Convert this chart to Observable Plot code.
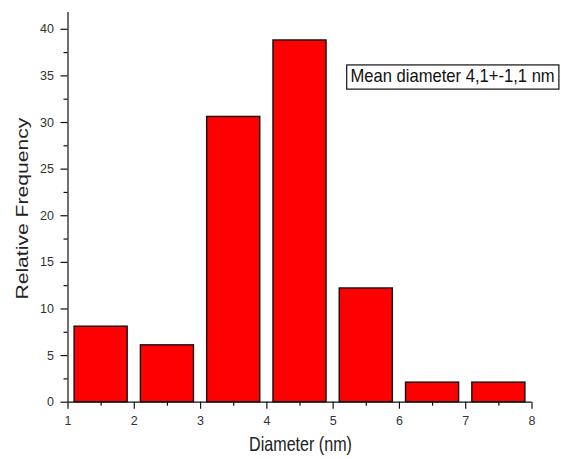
<!DOCTYPE html>
<html><head><meta charset="utf-8">
<script src="https://cdn.jsdelivr.net/npm/d3@7"></script>
<script src="https://cdn.jsdelivr.net/npm/@observablehq/plot@0.6"></script>
<style>
html,body{margin:0;padding:0;background:#fff;}
#chart{width:561px;height:459px;overflow:hidden;}
svg text{font-family:Arial,"Liberation Sans",sans-serif;}
</style>
</head><body><div id="chart"></div>
<script>
const binStarts = [1, 2, 3, 4, 5, 6, 7];
const binEnds   = [2, 3, 4, 5, 6, 7, 8];
const frequency = [8.1, 6.1, 30.6, 38.8, 12.2, 2.1, 2.1];
const xMajorTicks = [1, 2, 3, 4, 5, 6, 7, 8];
const xMinorTicks = [1.5, 2.5, 3.5, 4.5, 5.5, 6.5, 7.5];
const yMajorTicks = [0, 5, 10, 15, 20, 25, 30, 35, 40];
const yMinorTicks = [2.5, 7.5, 12.5, 17.5, 22.5, 27.5, 32.5, 37.5];
const xTitle = "Diameter (nm)";
const yTitle = "Relative Frequency";
const annotation = ["Mean diameter 4,1+-1,1 nm"];
const annotationPos = {x: 5.262, y: 34.90};

const bars = binStarts.map((s, i) => ({x1: s, x2: binEnds[i], y: frequency[i]}));

const FS_X = 16.1, FS_Y = 16.5, FS_A = 16.6;

const chart = Plot.plot({
  width: 561,
  height: 459,
  marginLeft: 67.5,
  marginRight: 29.5,
  marginTop: 12,
  marginBottom: 57.3,
  style: {fontFamily: "Arial, 'Liberation Sans', sans-serif", fontSize: "12.5px", color: "#222", background: "#fff"},
  x: {type: "linear", domain: [1, 8]},
  y: {type: "linear", domain: [0, 41.8]},
  marks: [
    Plot.rectY(bars, {x1: "x1", x2: "x2", y: "y", fill: "#ff0000", stroke: "#111", strokeWidth: 1.4, insetLeft: 6.6, insetRight: 6.6}),
    Plot.ruleY([0], {stroke: "#111", strokeWidth: 1.2}),
    Plot.ruleX([1], {stroke: "#111", strokeWidth: 1.2}),
    Plot.axisX({ticks: xMajorTicks, tickSize: 7, tickPadding: 7, tickFormat: d => String(d), label: null, stroke: "#111", strokeWidth: 1.2, fill: "#333", fontSize: 12.5}),
    Plot.axisX({ticks: xMinorTicks, tickSize: 4, tickFormat: () => "", label: null, stroke: "#111", strokeWidth: 1.2}),
    Plot.axisY({ticks: yMajorTicks, tickSize: 7, tickPadding: 7, tickFormat: d => String(d), label: null, stroke: "#111", strokeWidth: 1.2, fill: "#333", fontSize: 12.5}),
    Plot.axisY({ticks: yMinorTicks, tickSize: 4, tickFormat: () => "", label: null, stroke: "#111", strokeWidth: 1.2}),
    Plot.text([xTitle], {frameAnchor: "bottom", textAnchor: "middle", dy: 48.7, dx: 0.5, fontSize: FS_X, fill: "#222", className: "xtitle"}),
    Plot.text([yTitle], {frameAnchor: "left", textAnchor: "middle", dx: -45.4, dy: 1.2, rotate: -90, fontSize: FS_Y, fill: "#222", className: "ytitle"}),
    Plot.text(annotation, {x: () => annotationPos.x, y: () => annotationPos.y, textAnchor: "start", fontSize: FS_A, fill: "#111", className: "annot"})
  ]
});
document.getElementById("chart").append(chart);

// stretch a text element about a pivot (given in screen coords)
function stretch(el, kx, ky, pivot) {
  const p = el.parentNode;
  const m = p.getScreenCTM().inverse();
  const q = new DOMPoint(pivot[0], pivot[1]).matrixTransform(m);
  const g = document.createElementNS("http://www.w3.org/2000/svg", "g");
  g.setAttribute("transform", `translate(${q.x},${q.y}) scale(${kx},${ky}) translate(${-q.x},${-q.y})`);
  p.insertBefore(g, el);
  g.appendChild(el);
}

const xt = chart.querySelector(".xtitle text");
if (xt) {
  const r = xt.getBoundingClientRect();
  stretch(xt, 1, 1.2, [(r.left + r.right) / 2, r.bottom - 0.212 * FS_X]);
}
const yt = chart.querySelector(".ytitle text");
if (yt) {
  const r = yt.getBoundingClientRect();
  const k = 183 / r.height;
  stretch(yt, 1, k, [(r.left + r.right) / 2, (r.top + r.bottom) / 2]);
}
const at = chart.querySelector(".annot text");
if (at) {
  const r = at.getBoundingClientRect();
  const base = r.bottom - 0.212 * FS_A;
  stretch(at, 1, 1.14, [r.left, base]);
  const r2 = at.getBoundingClientRect();
  const sr = chart.getBoundingClientRect();
  const rect = document.createElementNS("http://www.w3.org/2000/svg", "rect");
  rect.setAttribute("x", r2.left - sr.left - 3.8);
  rect.setAttribute("y", base - sr.top - 17.7);
  rect.setAttribute("width", r2.width + 8);
  rect.setAttribute("height", 24.2);
  rect.setAttribute("fill", "#fff");
  rect.setAttribute("stroke", "#111");
  rect.setAttribute("stroke-width", 1.2);
  const annotG = chart.querySelector(".annot");
  annotG.parentNode.insertBefore(rect, annotG);
}
</script></body></html>
